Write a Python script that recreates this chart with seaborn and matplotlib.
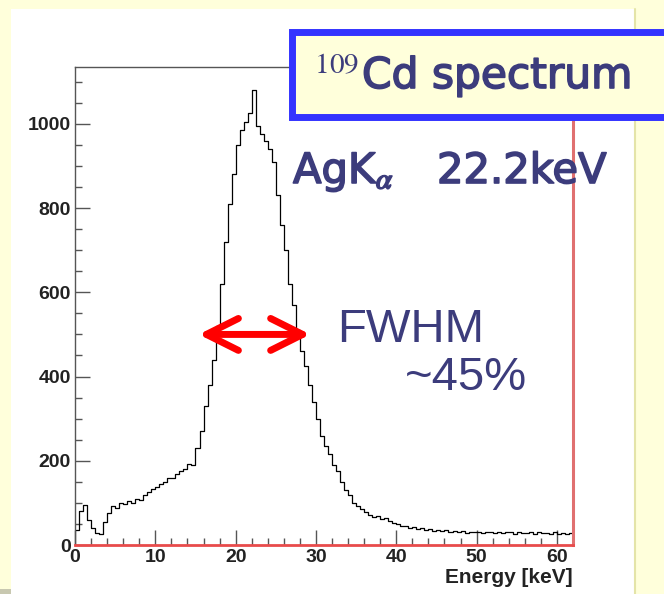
import numpy as np
import pandas as pd
import matplotlib.pyplot as plt
import matplotlib.patheffects as pe
import seaborn as sns
from matplotlib.patches import Rectangle
from matplotlib.lines import Line2D
from matplotlib.ticker import MultipleLocator

# 109Cd spectrum, counts per 0.5 keV bin
bin_width = 0.5
counts = [35, 80, 95, 60, 40, 28, 25, 55, 75, 92,
          88, 100, 98, 104, 100, 110, 108, 118, 125, 132,
          138, 145, 150, 160, 158, 168, 175, 180, 192, 190,
          230, 270, 330, 380, 440, 520, 620, 720, 810, 880,
          950, 985, 1005, 1025, 1080, 995, 975, 960, 940, 910,
          830, 760, 700, 620, 570, 510, 460, 425, 380, 340,
          300, 260, 235, 215, 190, 175, 150, 130, 118, 100,
          92, 85, 78, 72, 66, 68, 62, 64, 56, 52,
          50, 46, 44, 40, 43, 38, 40, 36, 38, 34,
          36, 33, 35, 30, 33, 31, 34, 29, 32, 30,
          31, 28, 32, 30, 29, 31, 28, 30, 32, 27,
          30, 29, 28, 31, 27, 30, 28, 29, 26, 30,
          27, 29, 26, 28]
energy = np.arange(len(counts)) * bin_width + bin_width / 2
edges = [i * bin_width for i in range(len(counts) + 1)]
spec = pd.DataFrame({'energy': energy, 'counts': counts})

xticks = [0, 10, 20, 30, 40, 50, 60]
yticks = [0, 200, 400, 600, 800, 1000]

# arrow at half maximum
fwhm_lo, fwhm_hi, half_max = 15.4, 29.3, 500

navy = '#3C3C7C'
beige = '#FFFFDB'

sns.set_style('ticks')
plt.rcParams['font.family'] = ['Liberation Sans', 'DejaVu Sans']
plt.rcParams['mathtext.fontset'] = 'stix'

W, H = 664, 594
def fx(px):
    return px / W
def fy(py):
    return 1 - py / H

fig = plt.figure(figsize=(6.64, 5.94), dpi=100)
fig.patch.set_facecolor(beige)

# white slide panel behind the plot
fig.add_artist(Rectangle((fx(11), 0), fx(634) - fx(11), fy(9), transform=fig.transFigure,
                         facecolor='white', edgecolor='none', zorder=-2))
fig.add_artist(Line2D([fx(635), fx(635)], [0, fy(9)], transform=fig.transFigure,
                      color='#E4E4A8', lw=1.5, zorder=-1))
fig.add_artist(Rectangle((0, 0), fx(11), 5 / H, transform=fig.transFigure,
                         facecolor='#C8C8B0', edgecolor='none', zorder=-1))

ax = fig.add_axes([fx(75), fy(545), fx(573) - fx(75), (545 - 67) / H])
ax.set_facecolor('none')

sns.histplot(data=spec, x='energy', weights='counts', bins=edges, element='step',
             fill=False, color='black', linewidth=0.9, ax=ax)

ax.set_xlim(0, 62)
ax.set_ylim(0, 1135)
ax.set_xticks(xticks)
ax.set_xticklabels([str(t) for t in xticks], fontweight='bold')
ax.set_yticks(yticks)
ax.set_yticklabels([str(t) for t in yticks], fontweight='bold')
ax.xaxis.set_minor_locator(MultipleLocator(2))
ax.yaxis.set_minor_locator(MultipleLocator(50))
ax.tick_params(which='both', direction='in', color='#555555', width=1)
ax.tick_params(which='major', length=10.5, labelsize=14, labelcolor='#222222')
ax.tick_params(which='minor', length=5)
ax.tick_params(axis='y', pad=3)
ax.tick_params(axis='x', pad=3)
ax.set_ylabel('')
ax.set_xlabel('Energy [keV]', loc='right', fontsize=15, fontweight='bold',
              color='#222222', labelpad=1)

for s in ['top', 'left']:
    ax.spines[s].set_color('#555555')
    ax.spines[s].set_linewidth(1)
ax.spines['bottom'].set_color('#E84B4B')
ax.spines['bottom'].set_linewidth(2)
ax.spines['right'].set_color('#E07070')
ax.spines['right'].set_linewidth(2.2)

# FWHM arrow
ax.annotate('', xy=(fwhm_lo, half_max), xytext=(fwhm_hi, half_max),
            arrowprops=dict(arrowstyle='<->,head_length=2.3,head_width=1.15',
                            color='#FF0000', lw=5, mutation_scale=10,
                            shrinkA=0, shrinkB=0))

# title box
thick = [pe.withStroke(linewidth=1.2, foreground=navy)]
fig.add_artist(Rectangle((fx(291.5), fy(116.5)), fx(700) - fx(291.5), (116.5 - 31.5) / H,
                         transform=fig.transFigure, facecolor=beige, edgecolor='#3333FF',
                         lw=5, clip_on=False, zorder=2))
fig.text(fx(314), fy(88), r'$^{109}$', fontsize=30, color=navy,
         family='DejaVu Sans', va='baseline', zorder=3)
fig.text(fx(362), fy(88), 'Cd spectrum', fontsize=30.5, color=navy,
         family='DejaVu Sans', va='baseline', zorder=3, path_effects=thick)

fig.text(fx(293), fy(183), r'AgK$_{\alpha}$', fontsize=30, color=navy,
         family='DejaVu Sans', va='baseline', path_effects=thick)
fig.text(fx(437), fy(183), '22.2keV', fontsize=30, color=navy,
         family='DejaVu Sans', va='baseline', path_effects=thick)
fig.text(fx(337), fy(342), 'FWHM', fontsize=34, color=navy, va='baseline')
fig.text(fx(405), fy(390), '~45%', fontsize=34, color=navy, va='baseline')

fig.savefig('out.png', dpi=100, facecolor=fig.get_facecolor())
